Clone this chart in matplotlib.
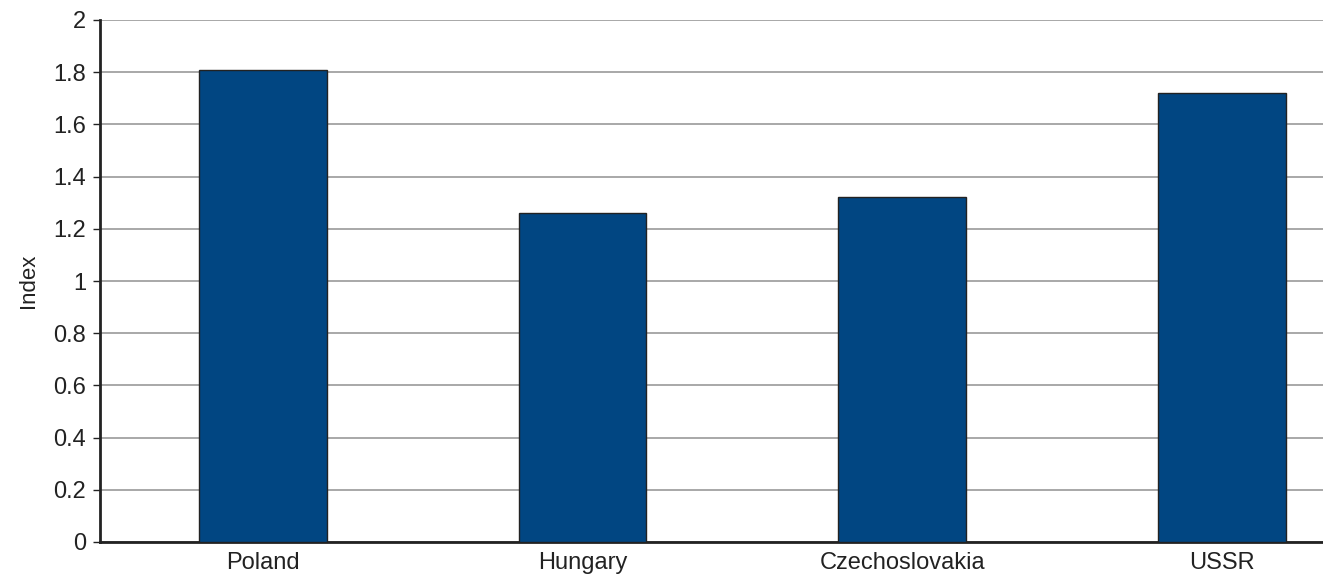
import matplotlib
matplotlib.use('Agg')
import matplotlib.pyplot as plt

# data
countries = ['Poland', 'Hungary', 'Czechoslovakia', 'USSR']
index_values = [1.81, 1.26, 1.32, 1.72]

plt.rcParams['font.family'] = ['Liberation Sans', 'DejaVu Sans']

fig = plt.figure(figsize=(13.23, 5.77), dpi=100)
ax = fig.add_axes([100 / 1323, 1 - 542 / 577, 1223 / 1323, 522 / 577])

x = range(len(countries))
ax.bar(x, index_values, width=0.4, color='#014682', edgecolor='#222222',
       linewidth=1.0, zorder=3)

ax.set_ylim(0, 2)
ax.set_xlim(-0.509, 3.316)
ax.set_yticks([0, 0.2, 0.4, 0.6, 0.8, 1, 1.2, 1.4, 1.6, 1.8, 2])
ax.set_yticklabels(['0', '0.2', '0.4', '0.6', '0.8', '1', '1.2', '1.4', '1.6', '1.8', '2'])
ax.set_xticks(list(x))
ax.set_xticklabels(countries)
ax.tick_params(axis='x', length=0, pad=7, labelsize=17, colors='#222222')
ax.tick_params(axis='y', length=5, width=1, direction='out', pad=5,
               labelsize=17, colors='#222222')

ax.grid(axis='y', color='#999999', linewidth=1.2, zorder=0)
ax.set_axisbelow(True)

for side in ['top', 'right']:
    ax.spines[side].set_visible(False)
ax.spines['left'].set_color('#222222')
ax.spines['left'].set_linewidth(2)
ax.spines['bottom'].set_color('#222222')
ax.spines['bottom'].set_linewidth(2)

ax.set_ylabel('Index', fontsize=16, color='#222222', labelpad=10)

plt.savefig('out.png', dpi=100)
plt.close()
